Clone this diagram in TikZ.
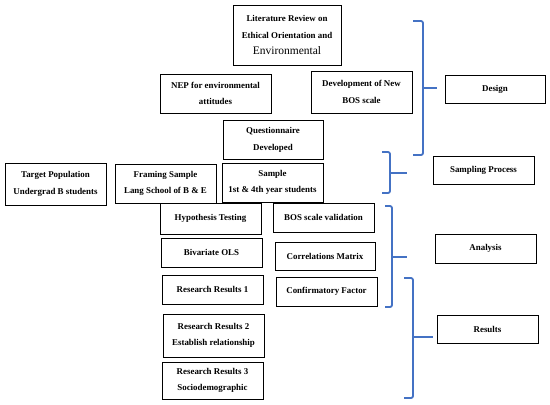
\documentclass[tikz,border=0pt]{standalone}
\usepackage{fontspec}
\setmainfont{Liberation Serif}
\definecolor{braceblue}{HTML}{4472C4}
\tikzset{
  box/.style={draw=black, line width=0.9pt, align=center, inner sep=1pt,
    font=\bfseries\fontsize{8.9}{16.5}\selectfont},
  brace/.style={draw=braceblue, line width=1.8pt, rounded corners=2pt},
}
\newcommand{\boxat}[7]{% name, x1, x2, y1, y2, text
  \node[box, minimum width={#3-#2}, minimum height={#5-#4}] (#1) at ({(#2+#3)/2},{(#4+#5)/2}) {#6};}
\begin{document}
\begin{tikzpicture}[x=1pt,y=-1pt]
\useasboundingbox (0,0) rectangle (550,405);
% design group
\node[box, minimum width=108pt, minimum height=60pt] (lit) at (287,35)
  {Literature Review on\\Ethical Orientation and\\{\mdseries\fontsize{11.5}{16.5}\selectfont Environmental}};
\node[box, minimum width=111pt, minimum height=39pt] (nep) at (215.5,93.5) {NEP for environmental\\attitudes};
\node[box, minimum width=101pt, minimum height=42pt] (dev) at (361.5,92) {Development of New\\BOS scale};
\node[box, minimum width=100pt, minimum height=39pt] (quest) at (273,140) {Questionnaire\\Developed};
% sampling group
\node[box, minimum width=101pt, minimum height=39pt] (sample) at (272.5,182.5) {Sample\\1st \& 4th year students};
\node[box, minimum width=101pt, minimum height=39pt] (frame) at (165.5,183.5) {Framing Sample\\Lang School of B \& E};
\node[box, minimum width=101pt, minimum height=42pt] (target) at (55.5,184) {Target Population\\Undergrad B students};
% analysis group
\node[box, minimum width=101pt, minimum height=31pt] (hyp) at (210.5,218.5) {Hypothesis Testing};
\node[box, minimum width=101pt, minimum height=29pt] (bos) at (323.5,217.5) {BOS scale validation};
\node[box, minimum width=101pt, minimum height=29pt] (biv) at (211.5,252.5) {Bivariate OLS};
\node[box, minimum width=100pt, minimum height=28pt] (corr) at (325,256) {Correlations Matrix};
\node[box, minimum width=101pt, minimum height=29pt] (rr1) at (212.5,289.5) {Research Results 1};
\node[box, minimum width=101pt, minimum height=29pt] (conf) at (326.5,291.5) {Confirmatory Factor};
% results group
\node[box, minimum width=101pt, minimum height=43pt] (rr2) at (213.5,335.5) {Research Results 2\\Establish relationship};
\node[box, minimum width=101pt, minimum height=37pt] (rr3) at (212.5,380.5) {Research Results 3\\Sociodemographic};
% labels on the right
\node[box, minimum width=100pt, minimum height=28pt] (design) at (495,89) {Design};
\node[box, minimum width=101pt, minimum height=28pt] (samp) at (483.5,170) {Sampling Process};
\node[box, minimum width=101pt, minimum height=29pt] (anal) at (485.5,248.5) {Analysis};
\node[box, minimum width=101pt, minimum height=28pt] (res) at (487.5,329) {Results};
% braces
\coordinate (dT) at (413,21);  \coordinate (dB) at (413,155);
\coordinate (dM) at (423,88);  \coordinate (dP) at (437,88);
\draw[brace] (dT) -- ++(10,0) |- (dB);
\draw[brace] (dM) -- (dP);
\coordinate (sT) at (382,152); \coordinate (sB) at (382,193);
\coordinate (sM) at (390,173); \coordinate (sP) at (407,173);
\draw[brace] (sT) -- ++(8,0) |- (sB);
\draw[brace] (sM) -- (sP);
\coordinate (aT) at (385,206); \coordinate (aB) at (385,307);
\coordinate (aM) at (392,257); \coordinate (aP) at (407,257);
\draw[brace] (aT) -- ++(7,0) |- (aB);
\draw[brace] (aM) -- (aP);
\coordinate (rT) at (404,278); \coordinate (rB) at (404,398);
\coordinate (rM) at (413,337); \coordinate (rP) at (433,337);
\draw[brace] (rT) -- ++(9,0) |- (rB);
\draw[brace] (rM) -- (rP);
\end{tikzpicture}
\end{document}
